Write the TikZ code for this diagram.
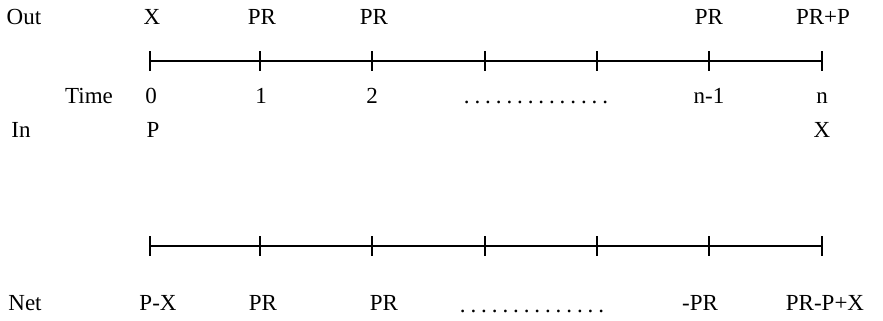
\documentclass[tikz,border=0pt]{standalone}
\usepackage{fontspec}
\setmainfont{Liberation Serif}
\newcommand{\dotrow}{.\foreach \k in {1,...,13}{\hspace{2.45pt}.}}
\begin{document}
\begin{tikzpicture}[x=0.5pt,y=-0.5pt,
  lbl/.style={anchor=base,inner sep=0pt,font=\fontsize{11.5}{13}\selectfont},
  axis/.style={line width=1.1pt},
  tick/.style={line width=0.7pt}]
\useasboundingbox (0,0) rectangle (883,321);
% tick positions
\foreach \i/\x in {0/150,1/260,2/372,3/485,4/597,5/709,6/822}{
  \coordinate (a\i) at (\x,61);
  \coordinate (b\i) at (\x,246);
}
\draw[axis] (a0) -- (a6);
\draw[axis] (b0) -- (b6);
\foreach \i in {0,...,6}{
  \draw[tick] ([yshift=5pt]a\i) -- ([yshift=-5pt]a\i);
  \draw[tick] ([yshift=5pt]b\i) -- ([yshift=-5pt]b\i);
}
% Out row
\node[lbl] (out) at (24,25) {Out};
\node[lbl] (o0) at (152,25) {X};
\node[lbl] (o1) at (262,25) {PR};
\node[lbl] (o2) at (374,25) {PR};
\node[lbl] (o5) at (709,25) {PR};
\node[lbl] (o6) at (823,25) {PR+P};
% Time row
\node[lbl] (time) at (89,103) {Time};
\node[lbl] (t0) at (151,103) {0};
\node[lbl] (t1) at (261,103) {1};
\node[lbl] (t2) at (372,103) {2};
\node[lbl] (tdots) at (536,103) {\dotrow};
\node[lbl] (t5) at (709,103) {n-1};
\node[lbl] (t6) at (822,103) {n};
% In row
\node[lbl] (in) at (21,137) {In};
\node[lbl] (i0) at (153,137) {P};
\node[lbl] (i6) at (822,137) {X};
% Net row
\node[lbl] (net) at (25,310) {Net};
\node[lbl] (n0) at (158,310) {P-X};
\node[lbl] (n1) at (263,310) {PR};
\node[lbl] (n2) at (384,310) {PR};
\node[lbl] (ndots) at (532,312) {\dotrow};
\node[lbl] (n5) at (700,310) {-PR};
\node[lbl] (n6) at (825,310) {PR-P+X};
\end{tikzpicture}
\end{document}
